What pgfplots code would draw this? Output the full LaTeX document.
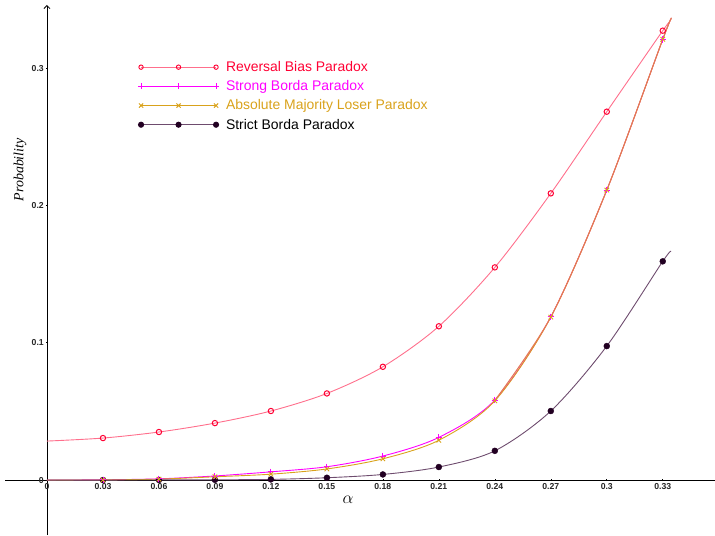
\documentclass[border=0pt]{standalone}
\usepackage{pgfplots}
\pgfplotsset{compat=1.18}
\usetikzlibrary{arrows.meta}
\usepackage{fontspec}
\setmainfont{Liberation Sans}
\newfontfamily\seriffont{Liberation Serif}
\definecolor{rbline}{HTML}{FF6F8C}
\definecolor{rbmark}{HTML}{FF0033}
\definecolor{sbcol}{HTML}{FF00FF}
\definecolor{amlcol}{HTML}{D9A21B}
\definecolor{upcol}{HTML}{E37A55}
\definecolor{sbdline}{HTML}{6E4C6E}
\definecolor{sbdmark}{HTML}{220022}
\begin{document}
\begin{tikzpicture}
\path[use as bounding box] (0,0) rectangle (715bp,536bp);
\begin{axis}[
  at={(5bp,1bp)}, anchor=south west,
  scale only axis, width=710bp, height=530bp,
  xmin=-0.0225, xmax=0.358, ymin=-0.040, ymax=0.346,
  axis lines=middle,
  x axis line style={-, line width=0.8pt},
  y axis line style={-{Straight Barb[length=3pt,width=6pt]}, line width=0.8pt},
  hide obscured x ticks=false, hide obscured y ticks=false,
  xtick={0,0.03,0.06,0.09,0.12,0.15,0.18,0.21,0.24,0.27,0.3,0.33},
  xticklabels={0,0.03,0.06,0.09,0.12,0.15,0.18,0.21,0.24,0.27,0.3,0.33},
  ytick={0,0.1,0.2,0.3},
  yticklabels={0,0.1,0.2,0.3},
  major tick length=2pt,
  tick style={black, line width=0.6pt},
  ticklabel style={font=\fontsize{8.7}{9}\selectfont\bfseries, text=black!85},
  xticklabel style={inner sep=2pt},
  yticklabel style={inner sep=2pt},
  xlabel={$\alpha$},
  ylabel={\seriffont\itshape Probability},
  xlabel style={at={(axis description cs:0.483,0.066)}, anchor=center, font=\fontsize{17}{18}\selectfont},
  ylabel style={at={(axis description cs:0.0211,0.689)}, anchor=center, rotate=90, font=\fontsize{14}{15}\selectfont},
  legend style={at={(axis cs:0.0471,0.308)}, anchor=north west, draw=none, fill=none,
    font=\fontsize{14}{15}\selectfont, row sep=3.6bp, column sep=5bp,
    legend cell align=left},
  legend image code/.code={%
    \draw[#1, mark=none] (0bp,0bp) -- (75bp,0bp);
    \draw[#1, only marks] plot coordinates {(0bp,0bp) (37.5bp,0bp) (75bp,0bp)};},
]
% Reversal Bias Paradox
\addplot[rbline, line width=0.9pt, smooth, no markers, forget plot] coordinates {
 (0,0.0284)(0.03,0.0306)(0.06,0.0350)(0.09,0.0415)(0.12,0.0503)(0.15,0.0631)(0.18,0.0825)(0.21,0.1120)(0.24,0.1549)(0.27,0.2088)(0.30,0.2683)(0.33,0.3273)(0.3338,0.3336)};
% Strong Borda
\addplot[sbcol, line width=0.9pt, smooth, no markers, forget plot] coordinates {
 (0,0)(0.03,0.0002)(0.06,0.0009)(0.09,0.0030)(0.12,0.0060)(0.15,0.0097)(0.18,0.0175)(0.21,0.0311)(0.24,0.0583)(0.27,0.1189)(0.30,0.2112)(0.33,0.3210)(0.3345,0.3360)};
% Absolute Majority Loser
\addplot[amlcol, line width=0.9pt, smooth, no markers, forget plot] coordinates {
 (0,0)(0.03,0.0001)(0.06,0.0007)(0.09,0.0024)(0.12,0.0043)(0.15,0.0081)(0.18,0.0155)(0.21,0.0290)(0.24,0.0577)(0.27,0.1187)(0.30,0.2112)(0.33,0.3210)(0.3345,0.3360)};
% coincident upper part
\addplot[upcol, line width=1pt, smooth, no markers, forget plot] coordinates {
 (0.24,0.0580)(0.27,0.1188)(0.30,0.2112)(0.33,0.3210)(0.3345,0.3360)};
% Strict Borda
\addplot[sbdline, line width=0.9pt, smooth, no markers, forget plot] coordinates {
 (0,0)(0.03,0.0000)(0.06,0.0001)(0.09,0.0002)(0.12,0.0005)(0.15,0.0017)(0.18,0.0041)(0.21,0.0095)(0.24,0.0213)(0.27,0.0503)(0.30,0.0976)(0.33,0.1593)(0.3345,0.1666)};
% markers
\addplot[only marks, mark=*, mark size=3pt, mark options={fill=sbdmark, draw=sbdmark}, forget plot] coordinates {
 (0.03,0.0000)(0.06,0.0001)(0.09,0.0002)(0.12,0.0005)(0.15,0.0017)(0.18,0.0041)(0.21,0.0095)(0.24,0.0213)(0.27,0.0503)(0.30,0.0976)(0.33,0.1593)};
\addplot[only marks, mark=o, mark size=2.7pt, mark options={draw=rbmark, line width=1pt}, forget plot] coordinates {
 (0.03,0.0306)(0.06,0.0350)(0.09,0.0415)(0.12,0.0503)(0.15,0.0631)(0.18,0.0825)(0.21,0.1120)(0.24,0.1549)(0.27,0.2088)(0.30,0.2683)(0.33,0.3273)};
\addplot[only marks, mark=+, mark size=3.2pt, mark options={draw=sbcol, line width=0.9pt}, forget plot] coordinates {
 (0.03,0.0002)(0.06,0.0009)(0.09,0.0030)(0.12,0.0060)(0.15,0.0097)(0.18,0.0175)(0.21,0.0311)(0.24,0.0583)(0.27,0.1189)(0.30,0.2112)(0.33,0.3210)};
\addplot[only marks, mark=x, mark size=3.2pt, mark options={draw=amlcol, line width=0.9pt}, forget plot] coordinates {
 (0.03,0.0001)(0.06,0.0007)(0.09,0.0024)(0.12,0.0043)(0.15,0.0081)(0.18,0.0155)(0.21,0.0290)(0.24,0.0577)(0.27,0.1187)(0.30,0.2112)(0.33,0.3210)};
% legend
\addlegendimage{draw=rbline, line width=0.9pt, mark=o, mark size=2.2pt, mark options={draw=rbmark, line width=0.9pt}}
\addlegendentry{\textcolor{rbmark}{Reversal Bias Paradox}}
\addlegendimage{draw=sbcol, line width=0.9pt, mark=+, mark size=3pt, mark options={draw=sbcol, line width=1pt}}
\addlegendentry{\textcolor{sbcol}{Strong Borda Paradox}}
\addlegendimage{draw=amlcol, line width=0.9pt, mark=x, mark size=3pt, mark options={draw=amlcol, line width=1pt}}
\addlegendentry{\textcolor{amlcol}{Absolute Majority Loser Paradox}}
\addlegendimage{draw=sbdline, line width=0.9pt, mark=*, mark size=2.6pt, mark options={fill=sbdmark, draw=sbdmark}}
\addlegendentry{Strict Borda Paradox}
\end{axis}
\end{tikzpicture}
\end{document}
